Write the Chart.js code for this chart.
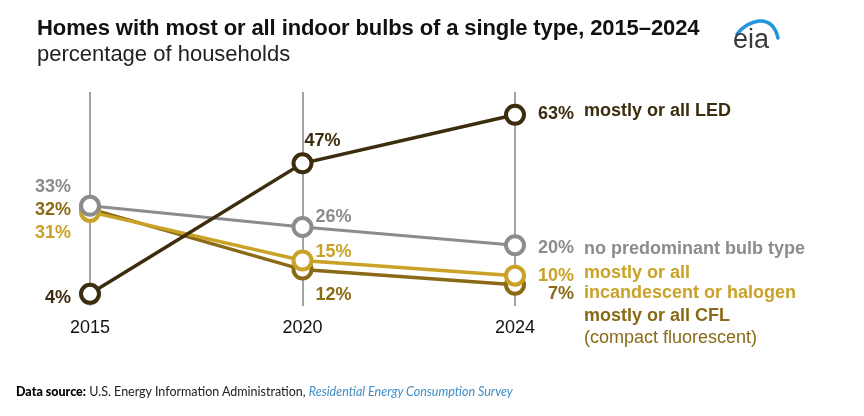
<!DOCTYPE html>
<html><head><meta charset="utf-8">
<script src="https://cdn.jsdelivr.net/npm/chart.js@4.4.1/dist/chart.umd.min.js"></script>
<style>
html,body{margin:0;padding:0;background:#fff;}
#wrap{position:relative;width:864px;height:416px;overflow:hidden;font-family:"Liberation Sans",Arial,sans-serif;}
#c{position:absolute;left:0;top:0;}
#title{position:absolute;left:37px;top:17px;font-weight:bold;font-size:22px;line-height:1;color:#111;white-space:nowrap;letter-spacing:-0.1px;}
#sub{position:absolute;left:37px;top:43px;font-size:22px;line-height:1;color:#222;white-space:nowrap;}
#logo{position:absolute;left:720px;top:0px;}
#foot{position:absolute;left:16px;top:386px;font-size:12.5px;line-height:1;color:#222;font-family:Lato,"Liberation Sans",sans-serif;white-space:nowrap;}
#foot b{color:#000;font-weight:900;}
#foot i{color:#3f8dc4;}
</style></head>
<body><div id="wrap">
<canvas id="c" width="864" height="416"></canvas>
<div id="title">Homes with most or all indoor bulbs of a single type, 2015–2024</div>
<div id="sub">percentage of households</div>
<svg id="logo" width="80" height="60"><path d="M17 34 C28 20, 52 12, 58 38" fill="none" stroke="#2196db" stroke-width="3.5" stroke-linecap="round"/><text x="13" y="48" font-family="Liberation Sans, Arial, sans-serif" font-size="27" fill="#3a3a3a">eia</text></svg>
<div id="foot"><b>Data source:</b> U.S. Energy Information Administration, <i>Residential Energy Consumption Survey</i></div>
</div>
<script>
const years = ["2015", "2020", "2024"];
const ledValues = [4, 47, 63];
const noneValues = [33, 26, 20];
const incandescentValues = [31, 15, 10];
const cflValues = [32, 12, 7];

const seriesNames = [
  ["mostly or all LED"],
  ["no predominant bulb type"],
  ["mostly or all", "incandescent or halogen"],
  ["mostly or all CFL", "(compact fluorescent)"]
];
const colors = ["#3b2d0d", "#8c8c8c", "#c9a227", "#8a6a16"];

// label placement (style): [dx, dy, align] per point
const labelPlace = [
  [[-19, 4, "right"], [2, -22, "left"], [59, -1, "right"]],
  [[-19, -19, "right"], [13, -10, "left"], [59, 3, "right"]],
  [[-19, 21, "right"], [13, -8, "left"], [59, 0, "right"]],
  [[-19, 1.5, "right"], [13, 25, "left"], [59, 9, "right"]]
];
const namePlace = [
  [[69, -4, "bold"]],
  [[69, 3.5, "bold"]],
  [[69, -2.5, "bold"], [69, 17.5, "bold"]],
  [[69, 31.5, "bold"], [69, 53.5, "normal"]]
];

const valueSets = [ledValues, noneValues, incandescentValues, cflValues];
const drawOrder = [0, 1, 2, 3];

const labelPlugin = {
  id: "labels",
  afterDatasetsDraw(chart) {
    const ctx = chart.ctx;
    ctx.save();
    ctx.textBaseline = "middle";
    chart.data.datasets.forEach((ds, di) => {
      const meta = chart.getDatasetMeta(di);
      meta.data.forEach((pt, i) => {
        const p = labelPlace[di][i];
        ctx.font = "bold 18px 'Liberation Sans', Arial, sans-serif";
        ctx.fillStyle = colors[di];
        ctx.textAlign = p[2];
        ctx.fillText(ds.data[i] + "%", pt.x + p[0], pt.y + p[1]);
      });
      const last = meta.data[meta.data.length - 1];
      seriesNames[di].forEach((t, k) => {
        const n = namePlace[di][k];
        ctx.font = n[2] + " 18px 'Liberation Sans', Arial, sans-serif";
        ctx.fillStyle = colors[di];
        ctx.textAlign = "left";
        ctx.fillText(t, last.x + n[0], last.y + n[1]);
      });
    });
    ctx.restore();
  }
};

new Chart(document.getElementById("c"), {
  type: "line",
  data: {
    labels: years,
    datasets: valueSets.map((v, di) => ({
      data: v,
      borderColor: colors[di],
      backgroundColor: "#ffffff",
      pointBackgroundColor: "#ffffff",
      pointBorderColor: colors[di],
      pointRadius: 9,
      pointBorderWidth: 4,
      borderWidth: di === 1 ? 3 : 3.5,
      order: drawOrder[di],
      clip: false,
      tension: 0
    }))
  },
  options: {
    responsive: false,
    animation: false,
    devicePixelRatio: 1,
    layout: { padding: { left: 90, right: 349, top: 92, bottom: 0 } },
    plugins: { legend: { display: false }, tooltip: { enabled: false }, title: { display: false } },
    scales: {
      x: {
        offset: false,
        grid: { display: true, color: "#a3a3a3", lineWidth: 2, drawTicks: false, offset: false },
        border: { display: false },
        ticks: { color: "#111", font: { size: 18, family: "'Liberation Sans', Arial, sans-serif" }, padding: 11, maxRotation: 0 },
        afterFit(scale) { scale.height = 110; }
      },
      y: { display: false, min: 0, max: 70.5 }
    }
  },
  plugins: [labelPlugin]
});
</script>
</body></html>
